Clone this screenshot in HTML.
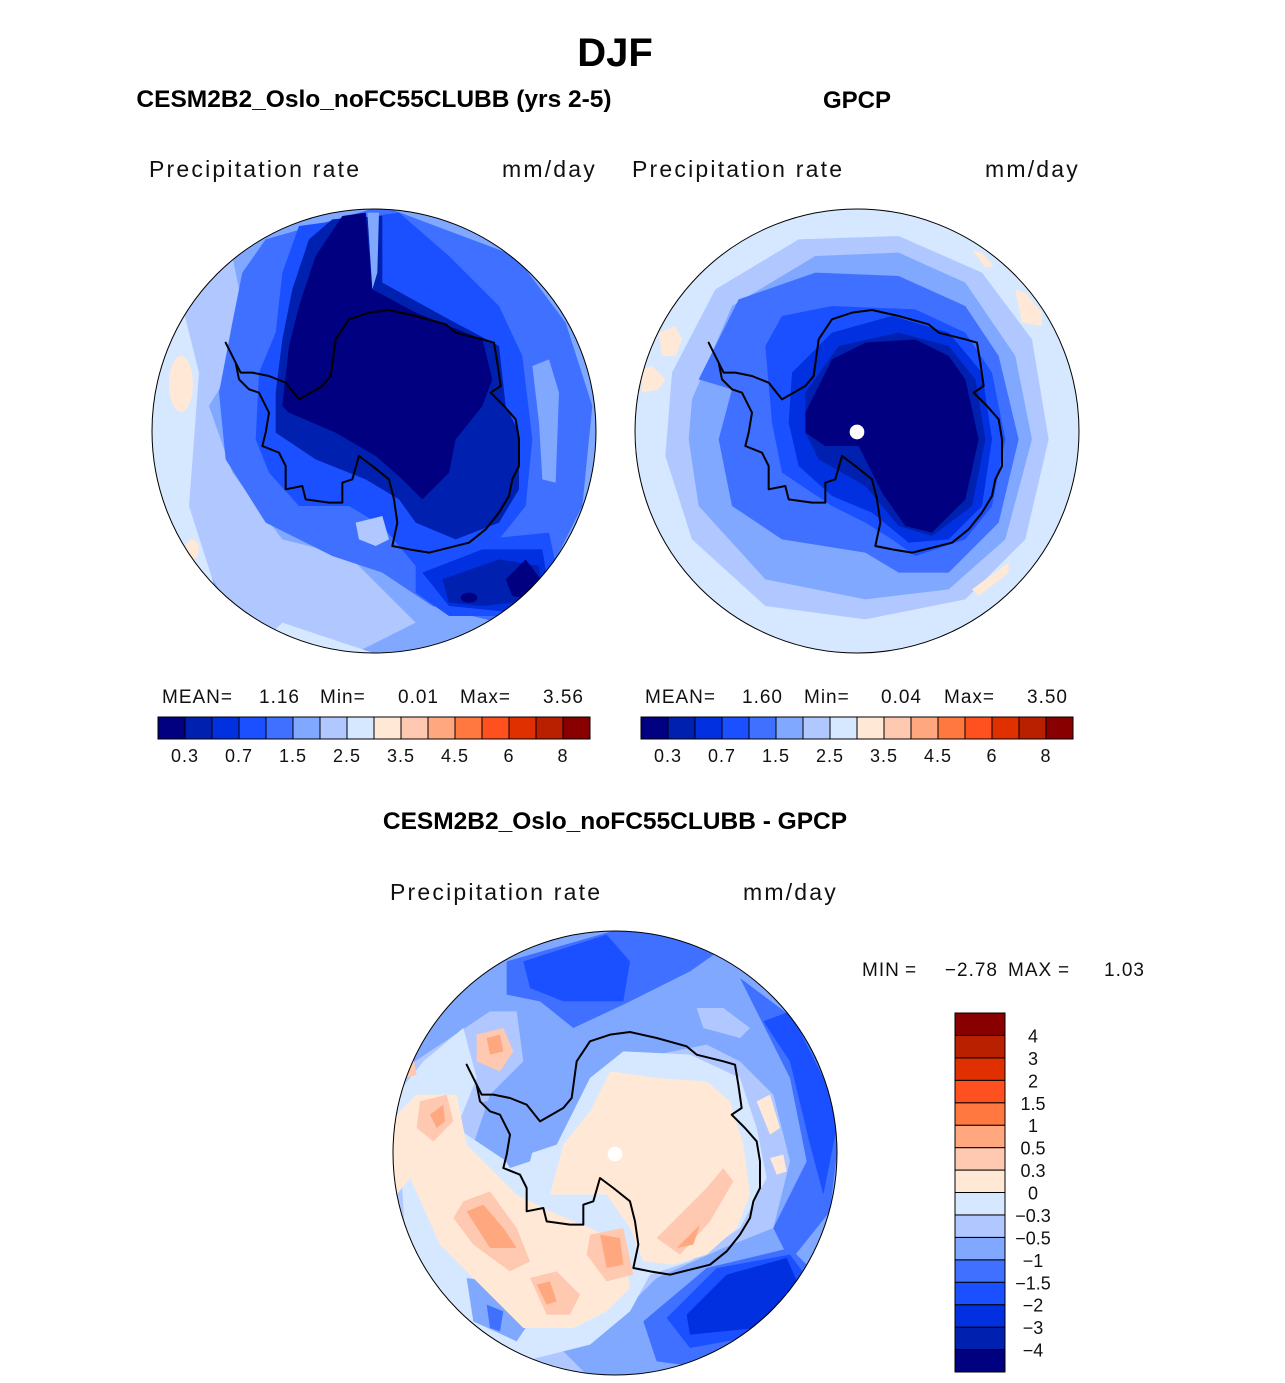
<!DOCTYPE html>
<html><head><meta charset="utf-8"><style>
html,body{margin:0;padding:0;background:#fff;}
body{width:1285px;height:1383px;position:relative;overflow:hidden;font-family:"Liberation Sans",sans-serif;}
</style></head><body>
<svg id="svg" width="1285" height="1383" viewBox="0 0 1285 1383" xmlns="http://www.w3.org/2000/svg" style="position:absolute;left:0;top:0">
<defs>
<clipPath id="cc"><circle cx="675" cy="675" r="666"/></clipPath>
<path id="ant" d="M600,340 L660,320 L720,312 L800,330 L890,355 L920,380 L1000,400 L1035,410 L1045,470 L1055,540 L1025,560 L1065,600 L1100,640 L1110,700 L1110,780 L1090,820 L1080,870 L1050,920 L1010,970 L960,1010 L900,1025 L840,1040 L780,1030 L730,1020 L745,950 L735,880 L720,820 L670,780 L630,750 L610,820 L580,830 L580,890 L540,890 L470,880 L460,840 L410,850 L410,780 L390,740 L340,720 L350,680 L360,620 L330,560 L300,550 L270,520 L260,470 L230,410 L275,500 L310,500 L360,510 L410,530 L450,580 L520,540 L545,510 L560,400 Z" fill="none" stroke="#000" stroke-width="6" stroke-linejoin="round"/>
</defs>
<text x="615" y="66" text-anchor="middle" font-size="40" font-weight="bold">DJF</text>
<text x="374" y="107" text-anchor="middle" font-size="24.5" font-weight="bold">CESM2B2_Oslo_noFC55CLUBB (yrs 2-5)</text>
<text x="857" y="108" text-anchor="middle" font-size="24" font-weight="bold">GPCP</text>
<text x="615" y="829" text-anchor="middle" font-size="24.5" font-weight="bold">CESM2B2_Oslo_noFC55CLUBB - GPCP</text>
<g font-size="23" fill="#111" letter-spacing="2.2">
<text x="149" y="177">Precipitation rate</text>
<text x="597" y="177" text-anchor="end">mm/day</text>
<text x="632" y="177">Precipitation rate</text>
<text x="1080" y="177" text-anchor="end">mm/day</text>
<text x="390" y="900">Precipitation rate</text>
<text x="838" y="900" text-anchor="end">mm/day</text>
</g>
<g font-size="19" fill="#111" letter-spacing="1">
<text x="162" y="703">MEAN=</text><text x="300" y="703" text-anchor="end">1.16</text><text x="320" y="703">Min=</text><text x="439" y="703" text-anchor="end">0.01</text><text x="460" y="703">Max=</text><text x="584" y="703" text-anchor="end">3.56</text>
<text x="645" y="703">MEAN=</text><text x="783" y="703" text-anchor="end">1.60</text><text x="804" y="703">Min=</text><text x="922" y="703" text-anchor="end">0.04</text><text x="944" y="703">Max=</text><text x="1068" y="703" text-anchor="end">3.50</text>
<g>
<text x="862" y="976">MIN</text><text x="905" y="976">=</text><text x="998" y="976" text-anchor="end">−2.78</text><text x="1008" y="976">MAX</text><text x="1058" y="976">=</text><text x="1145" y="976" text-anchor="end">1.03</text>
</g>
</g>

<!-- MAP 1 -->
<g transform="translate(149,206) scale(0.33333)">
<g clip-path="url(#cc)">
<circle cx="675" cy="675" r="666" fill="#80a8ff"/>
<polygon fill="#b0c8ff" points="0,300 250,150 300,400 180,600 250,800 400,1000 600,1050 800,1250 600,1350 300,1300 0,800"/>
<polygon fill="#b0c8ff" points="900,150 1000,120 1150,250 1180,330 1080,290 950,220"/>
<polygon fill="#d6e8ff" points="0,500 100,300 150,500 120,900 200,1150 0,1000"/>
<polygon fill="#d6e8ff" points="400,1250 700,1350 300,1350"/>
<ellipse cx="96" cy="534" rx="36" ry="84" fill="#ffe8d6"/>
<ellipse cx="130" cy="1030" rx="20" ry="30" fill="#ffe8d6"/>
<polygon fill="#4070ff" points="350,100 700,0 1100,150 1250,350 1330,600 1300,900 1200,1100 1050,1250 850,1200 700,1100 550,1050 350,950 230,760 210,560 250,350 280,200"/>
<polygon fill="#80a8ff" points="1150,480 1200,460 1230,560 1220,830 1180,820 1170,650"/>
<polygon fill="#1a50ff" points="450,60 750,20 900,150 1050,300 1120,450 1150,700 1130,900 1050,1000 950,1060 800,1080 700,960 600,900 450,900 360,800 320,700 330,500 380,380 400,200"/>
<polygon fill="#1a50ff" points="800,1080 1000,1000 1200,980 1230,1120 1100,1230 900,1230 800,1160"/>
<polygon fill="#0030e0" points="820,1100 1000,1030 1180,1030 1200,1150 1100,1220 900,1200"/>
<polygon fill="#0020b0" points="550,40 700,30 700,230 900,340 1050,420 1070,600 1110,680 1110,850 1050,950 920,1000 800,950 750,880 650,820 500,760 380,680 380,560 400,400 430,250 480,100"/>
<polygon fill="#0020b0" points="880,1120 1050,1060 1170,1080 1180,1180 1000,1200 900,1190"/>
<polygon fill="#000080" points="580,30 650,20 670,250 800,320 1000,400 1030,520 1000,600 920,700 900,800 820,880 760,820 680,750 560,680 420,620 400,600 420,420 450,300 500,150"/>
<polygon fill="#000080" points="1070,1120 1130,1060 1175,1120 1150,1180 1090,1170"/>
<ellipse cx="960" cy="1175" rx="25" ry="15" fill="#000080"/>
<polygon fill="#80a8ff" points="655,20 690,20 685,200 670,250"/>
<polygon fill="#b0c8ff" points="620,950 700,930 720,1000 680,1020 630,1000"/>
</g>
<use href="#ant"/>
<circle cx="675" cy="675" r="666" fill="none" stroke="#000" stroke-width="3"/>
</g>

<!-- MAP 2 -->
<g transform="translate(632,206) scale(0.33333)">
<g clip-path="url(#cc)">
<circle cx="675" cy="675" r="666" fill="#d6e8ff"/>
<polygon fill="#b0c8ff" points="120,500 250,250 500,100 800,90 1050,200 1200,400 1250,700 1180,1000 1000,1180 700,1240 400,1200 180,1000 100,750"/>
<polygon fill="#80a8ff" points="180,580 300,300 550,150 800,140 1000,230 1150,450 1200,700 1120,1000 950,1150 700,1180 400,1120 200,900 170,700"/>
<polygon fill="#4070ff" points="200,520 320,280 550,200 800,210 1000,300 1100,450 1160,700 1100,950 950,1100 800,1100 700,1040 450,1000 300,900 260,700 300,550"/>
<polygon fill="#1a50ff" points="400,420 450,330 600,300 850,310 1000,380 1080,500 1120,700 1080,900 1000,1000 850,1050 780,1000 700,950 600,900 450,800 420,650"/>
<polygon fill="#0030e0" points="480,500 600,380 780,330 950,380 1050,500 1080,700 1050,900 950,1000 830,1010 720,920 600,870 500,780 470,650"/>
<polygon fill="#0020b0" points="520,560 620,420 800,380 950,420 1030,520 1060,700 1020,900 900,990 800,960 700,840 560,760 520,680"/>
<polygon fill="#000080" points="520,620 600,460 700,410 850,400 950,450 1000,520 1040,700 1000,880 900,980 820,960 750,860 680,720 580,720 520,680"/>
<g fill="#ffe8d6">
<polygon points="80,380 130,360 150,400 130,450 90,450"/>
<polygon points="30,490 60,480 100,520 80,550 30,560"/>
<polygon points="1150,250 1180,260 1230,320 1230,360 1170,350"/>
<polygon points="1020,1150 1130,1070 1130,1100 1040,1170"/>
<polygon points="1020,130 1050,140 1085,180 1060,185"/>
</g>
</g>
<use href="#ant"/>
<circle cx="675" cy="678" r="22" fill="#fff"/>
<circle cx="675" cy="675" r="666" fill="none" stroke="#000" stroke-width="3"/>
</g>

<!-- MAP 3 -->
<g transform="translate(390,928) scale(0.33333)">
<g clip-path="url(#cc)">
<circle cx="675" cy="675" r="666" fill="#80a8ff"/>
<polygon fill="#4070ff" points="350,100 700,0 1000,60 900,130 700,230 550,300 450,220 350,200"/>
<polygon fill="#4070ff" points="1050,150 1250,300 1350,600 1320,850 1200,1000 1150,900 1250,700 1200,450 1100,250"/>
<polygon fill="#1a50ff" points="400,100 650,20 720,100 700,220 520,220 420,180"/>
<polygon fill="#1a50ff" points="1200,250 1350,550 1300,800 1260,650 1200,400 1120,280"/>
<polygon fill="#b0c8ff" points="0,450 150,350 300,250 380,250 400,400 300,500 250,650 400,750 600,700 650,450 700,400 950,350 1050,400 1150,500 1200,700 1150,900 1000,960 800,1050 750,1100 650,1200 500,1250 600,1350 300,1300 100,1100 0,800"/>
<polygon fill="#b0c8ff" points="920,240 1000,240 1080,300 1050,330 940,300"/>
<polygon fill="#d6e8ff" points="20,500 100,400 220,300 260,450 200,600 350,700 500,650 600,450 700,370 900,380 1050,450 1100,600 1130,750 1050,900 900,1000 780,1040 720,1150 600,1250 400,1300 200,1200 50,1000"/>
<polygon fill="#80a8ff" points="230,1050 300,1060 420,1180 380,1240 250,1180"/>
<polygon fill="#4070ff" points="290,1130 340,1150 330,1210 300,1200"/>
<polygon fill="#80a8ff" points="280,520 380,520 440,620 420,700 360,720 300,620"/>
<polygon fill="#4070ff" points="760,1180 950,1020 1200,960 1290,1050 1150,1230 950,1320 800,1300"/>
<polygon fill="#1a50ff" points="830,1170 980,1020 1200,980 1260,1060 1120,1220 900,1260"/>
<polygon fill="#0030e0" points="890,1160 1010,1040 1190,990 1230,1080 1100,1200 900,1220"/>
<polygon fill="#ffe8d6" points="480,800 520,650 600,550 660,430 800,450 950,460 1020,520 1060,650 1080,800 1040,900 950,980 850,1010 760,1000 720,900 650,800 560,800"/>
<polygon fill="#ffe8d6" points="0,580 80,500 200,500 230,650 380,800 480,850 600,900 700,950 720,1080 650,1150 550,1200 400,1200 300,1100 150,950 60,750 20,800 0,700"/>
<polygon fill="#ffe8d6" points="1100,520 1140,500 1170,600 1140,620"/>
<polygon fill="#ffe8d6" points="1140,690 1180,680 1190,730 1160,740"/>
<polygon fill="#ffe8d6" points="0,1150 200,1300 500,1350 100,1350"/>
<g fill="#ffc8b0">
<polygon points="220,820 300,790 380,900 420,1000 360,1030 250,950 190,870"/>
<polygon points="600,920 700,900 730,1040 650,1060 590,980"/>
<polygon points="420,1050 500,1030 570,1100 540,1160 470,1160"/>
<polygon points="90,520 170,500 190,580 130,640 80,600"/>
<polygon points="260,320 340,300 370,370 330,430 260,400"/>
<polygon points="800,930 950,780 1000,720 1030,760 960,880 870,980"/>
<polygon points="30,400 70,390 80,440 20,460"/>
</g>
<g fill="#ffa880">
<polygon points="230,850 280,830 340,900 380,960 300,960"/>
<polygon points="630,920 690,930 700,1010 650,1020"/>
<polygon points="290,330 330,320 340,370 300,380"/>
<polygon points="120,560 160,530 165,580 140,600"/>
<polygon points="440,1070 480,1060 500,1120 470,1130"/>
<polygon points="860,960 930,890 910,950"/>
</g>
</g>
<use href="#ant"/>
<circle cx="675" cy="678" r="22" fill="#fff"/>
<circle cx="675" cy="675" r="666" fill="none" stroke="#000" stroke-width="3"/>
</g>
<g id="bars"></g>
</svg>
<script>
const binColors = ["#000080","#0020b0","#0030e0","#1a50ff","#4070ff","#80a8ff","#b0c8ff","#d6e8ff","#ffe8d6","#ffc8b0","#ffa880","#ff7840","#ff5020","#e03000","#b82000","#880000"];
const absLevels = ["0.2","0.3","0.5","0.7","1","1.5","2","2.5","3","3.5","4","4.5","5","6","7","8"];
const diffLevels = ["-4","-3","-2","-1.5","-1","-0.5","-0.3","0","0.3","0.5","1","1.5","2","3","4"];
const NS = "http://www.w3.org/2000/svg";
const bars = document.getElementById("bars");
function mk(tag, attrs){const e=document.createElementNS(NS,tag);for(const k in attrs)e.setAttribute(k,attrs[k]);bars.appendChild(e);return e;}
function hbar(x0, y0, w, h, name){
  const n = binColors.length, bw = w/n;
  binColors.forEach((c,i)=>{
    const r = mk("rect",{x:x0+i*bw,y:y0,width:bw,height:h,fill:c,stroke:"#000","stroke-width":1});
    
    
  });
  absLevels.forEach((lab,i)=>{
    if(i%2===1){
      const t = mk("text",{x:x0+i*bw,y:y0+h+23,"text-anchor":"middle","font-size":18,fill:"#111","letter-spacing":1,"font-family":"Liberation Sans, sans-serif"});
      t.textContent = lab;
      
      
    }
  });
}
hbar(158,717,432,22,'left-colorbar');
hbar(641,717,432,22,'right-colorbar');
(function(){
  const x0=955,y0=1013,w=50,h=359,n=binColors.length,bh=h/n;
  binColors.forEach((c,i)=>{
    const r = mk("rect",{x:x0,y:y0+(n-1-i)*bh,width:w,height:bh,fill:c,stroke:"#000","stroke-width":1});
    
    
  });
  diffLevels.forEach((lab,i)=>{
    const t = mk("text",{x:1033,y:y0+(n-1-i)*bh+7,"text-anchor":"middle","font-size":18,fill:"#111","font-family":"Liberation Sans, sans-serif"});
    t.textContent = lab.replace("-","\u2212");
    
    
  });
})();
</script>
</body></html>
